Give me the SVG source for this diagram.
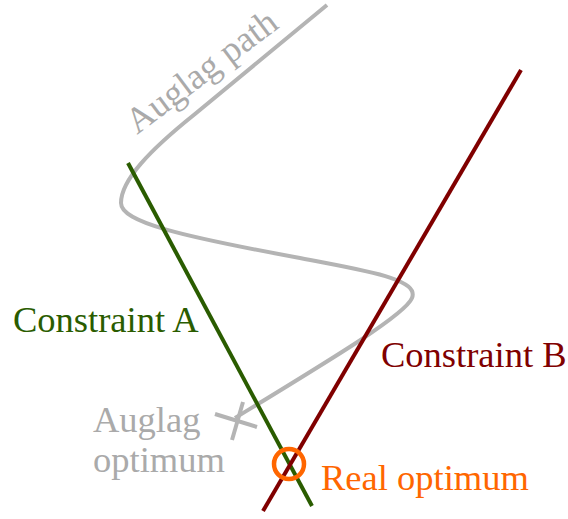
<svg xmlns="http://www.w3.org/2000/svg" width="568" height="519" viewBox="0 0 568 519">
<style>
text{font-family:"Liberation Serif","Times New Roman",serif;font-size:36.5px}
.gray{fill:#aaaaaa}
.ln{fill:none;stroke-width:4;stroke-linecap:butt}
</style>
<rect width="568" height="519" fill="#ffffff"/>
<g id="connectors">
<path id="auglag-path" class="ln" stroke="#b4b4b4" d="M327,5 L195,114 C150,150 121,180 121,203 C121,222 180,236 300,258 C360,270 420,278 412,298 C405,315 330,360 235,418"/>
<line id="constraint-a-line" class="ln" stroke="#2a5c00" x1="128" y1="163" x2="312" y2="506"/>
<line id="constraint-b-line" class="ln" stroke="#800000" x1="521" y1="70" x2="263" y2="511"/>
</g>
<g id="auglag-path-label"><text class="gray" transform="translate(137,135) rotate(-37)">Auglag path</text></g>
<g id="constraint-a"><text x="13" y="332" fill="#2a5c00">Constraint A</text></g>
<g id="constraint-b"><text x="381" y="367" fill="#800000">Constraint B</text></g>
<g id="auglag-optimum">
<line class="ln" stroke="#b4b4b4" x1="215" y1="414" x2="257" y2="427"/>
<line class="ln" stroke="#b4b4b4" x1="243" y1="402" x2="232" y2="440"/>
<text class="gray" x="93" y="432">Auglag</text>
<text class="gray" x="93" y="472">optimum</text>
</g>
<g id="real-optimum">
<circle cx="289" cy="464" r="15" fill="none" stroke="#ff6600" stroke-width="4.5"/>
<text x="321" y="490" fill="#ff6600">Real optimum</text>
</g>
</svg>
